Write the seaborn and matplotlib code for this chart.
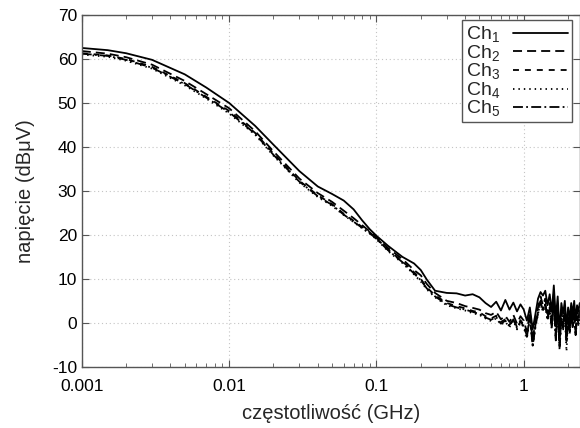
import numpy as np
import pandas as pd
import matplotlib
matplotlib.use("Agg")
import matplotlib.pyplot as plt
import seaborn as sns
from matplotlib.ticker import LogLocator, FixedLocator, FixedFormatter, NullFormatter

# frequency points (GHz)
freq = [0.001, 0.0015, 0.002, 0.003, 0.005, 0.007, 0.01, 0.015, 0.02, 0.03,
        0.04, 0.05, 0.06, 0.07, 0.08, 0.09, 0.1, 0.12, 0.15, 0.18,
        0.2, 0.22, 0.25, 0.3, 0.35, 0.4, 0.45, 0.5, 0.55, 0.6,
        0.65, 0.7, 0.75, 0.8, 0.85, 0.9, 0.95, 1.0,
        1.05, 1.1, 1.15, 1.2, 1.25, 1.3, 1.35, 1.4, 1.45, 1.5,
        1.55, 1.6, 1.65, 1.7, 1.75, 1.8, 1.85, 1.9, 1.95, 2.0,
        2.05, 2.1, 2.15, 2.2, 2.25, 2.3, 2.35, 2.4]

ch1 = [62.5, 62.0, 61.3, 59.8, 56.5, 53.5, 50.0, 44.8, 40.5, 34.5,
       31.0, 29.3, 27.8, 25.8, 23.3, 21.3, 19.8, 17.5, 15.0, 13.5,
       12.0, 9.8, 7.3, 6.8, 6.7, 6.2, 6.5, 5.8, 4.5, 3.6,
       4.8, 2.8, 5.2, 3.0, 4.6, 2.6, 4.2, 3.0,
       0.5, 3.5, -1.5, 2.0, 5.5, 7.0, 6.2, 7.3, 4.0, 6.5,
       2.5, 8.5, 1.0, 6.0, -2.0, 4.5, 2.0, 5.0, -1.0, 3.5,
       1.0, 4.5, 2.0, 5.0, 0.5, 4.0, 2.5, 4.5]

ch2 = [61.8, 61.2, 60.4, 58.7, 55.0, 52.0, 48.8, 43.6, 39.0, 32.8,
       29.5, 27.5, 25.5, 23.8, 22.2, 20.8, 19.5, 17.0, 14.5, 12.0,
       10.8, 8.8, 6.8, 5.0, 4.5, 3.8, 3.4, 3.0, 2.2, 1.8,
       2.5, 0.8, 1.6, 0.2, 1.8, -0.2, 1.5, 0.5,
       -2.0, 2.5, -4.0, 0.5, 3.5, 6.0, 4.0, 5.5, 2.0, 4.5,
       0.0, 6.5, -2.5, 4.0, -4.5, 2.5, 0.0, 3.5, -3.0, 2.0,
       -1.0, 3.0, 0.5, 3.5, -1.5, 2.5, 1.0, 3.0]

ch3 = [61.3, 60.8, 60.0, 58.2, 54.5, 51.4, 48.2, 43.2, 38.5, 32.3,
       29.0, 27.0, 24.8, 23.2, 21.8, 20.6, 19.2, 16.6, 14.0, 11.5,
       10.0, 8.0, 6.3, 4.5, 3.8, 3.3, 2.7, 2.4, 1.5, 1.0,
       1.6, 0.2, 0.8, -0.5, 1.0, -1.0, 0.6, -0.5,
       -3.0, 1.5, -5.0, -0.5, 2.5, 5.0, 3.0, 4.5, 1.0, 3.5,
       -1.0, 5.5, -3.5, 3.0, -5.5, 1.5, -1.0, 2.5, -4.0, 1.0,
       -2.0, 2.0, -0.5, 2.5, -2.5, 1.5, 0.0, 2.0]

ch4 = [61.0, 60.5, 59.6, 57.8, 54.0, 51.0, 47.6, 42.8, 38.0, 31.9,
       28.6, 26.6, 24.5, 22.9, 21.5, 20.3, 19.0, 16.3, 13.6, 11.0,
       9.4, 7.6, 5.8, 4.0, 3.3, 2.8, 2.2, 1.8, 1.0, 0.4,
       1.0, -0.4, 0.2, -1.0, 0.5, -1.5, 0.0, -1.0,
       -3.5, 1.0, -5.5, -1.0, 2.0, 4.5, 2.5, 4.0, 0.5, 3.0,
       -1.5, 5.0, -4.0, 2.5, -6.0, 1.0, -1.5, 2.0, -6.5, 0.5,
       -2.5, 1.5, -1.0, 2.0, -3.0, 1.0, -0.5, 1.5]

ch5 = [61.2, 60.7, 59.8, 58.0, 54.3, 51.2, 47.9, 43.0, 38.2, 32.1,
       28.8, 26.8, 24.6, 23.0, 21.6, 20.4, 19.1, 16.5, 13.8, 11.2,
       9.7, 7.8, 6.0, 4.2, 3.5, 3.0, 2.5, 2.0, 1.2, 0.7,
       1.3, -0.2, 0.5, -0.8, 0.8, -1.2, 0.3, -0.8,
       -3.2, 1.2, -5.2, -0.8, 2.2, 4.8, 2.8, 4.2, 0.8, 3.2,
       -1.2, 5.2, -3.8, 2.8, -5.8, 1.2, -1.2, 2.2, -4.5, 0.8,
       -2.2, 1.8, -0.8, 2.2, -2.8, 1.2, -0.2, 1.8]

labels = ["Ch$_1$", "Ch$_2$", "Ch$_3$", "Ch$_4$", "Ch$_5$"]
x_ticks = [0.001, 0.01, 0.1, 1]
x_ticklabels = ["0.001", "0.01", "0.1", "1"]
y_ticks = [-10, 0, 10, 20, 30, 40, 50, 60, 70]

sns.set_style("ticks")
plt.rcParams['font.family'] = ['Liberation Sans', 'DejaVu Sans']
plt.rcParams['mathtext.default'] = 'regular'
plt.rcParams['axes.unicode_minus'] = False

styles = ['-', (0, (5, 2.8)), (0, (3.3, 3.3)), (0, (0.8, 2.2)), (0, (5.5, 1.8, 1, 1.8))]

fig = plt.figure(figsize=(5.8, 4.28), dpi=100)
ax = fig.add_axes([0.141, 0.143, 0.8586, 0.822])

for vals, lab, ls in zip([ch1, ch2, ch3, ch4, ch5], labels, styles):
    sns.lineplot(x=freq, y=vals, ax=ax, color='black', linewidth=1.3,
                 linestyle=ls, label=lab)

ax.set_xscale('log')
ax.set_xlim(0.001, 2.4)
ax.set_ylim(-10, 70)
ax.xaxis.set_major_locator(FixedLocator(x_ticks))
ax.xaxis.set_major_formatter(FixedFormatter(x_ticklabels))
ax.xaxis.set_minor_locator(LogLocator(base=10, subs=np.arange(2, 10), numticks=20))
ax.xaxis.set_minor_formatter(NullFormatter())
ax.set_yticks(y_ticks)

ax.grid(True, which='major', color='#c4c4c4', linestyle=(0, (1, 2.5)), linewidth=0.8)
for s in ax.spines.values():
    s.set_color('#555555')
    s.set_linewidth(1.0)
ax.tick_params(which='both', direction='in', top=True, right=True, colors='#555555',
               labelcolor='black', labelsize=12.5)
ax.tick_params(which='major', length=5)
ax.tick_params(which='minor', length=3)
ax.tick_params(axis='x', which='major', pad=9)

ax.set_xlabel('częstotliwość (GHz)', fontsize=14.5, labelpad=7)
ax.set_ylabel('napięcie (dBμV)', fontsize=14.5, labelpad=12)

leg = ax.legend(loc='upper right', bbox_to_anchor=(1 - 8 / 498, 1 - 5 / 352),
                fontsize=14, frameon=True, fancybox=False,
                edgecolor='#555555', handlelength=2.8, labelspacing=-0.07,
                borderpad=0.2, handletextpad=0.7, borderaxespad=0.0,
                markerfirst=False, handleheight=0.5)
leg.get_frame().set_linewidth(1.0)
leg.get_frame().set_alpha(1)

fig.savefig('out.png', dpi=100)
